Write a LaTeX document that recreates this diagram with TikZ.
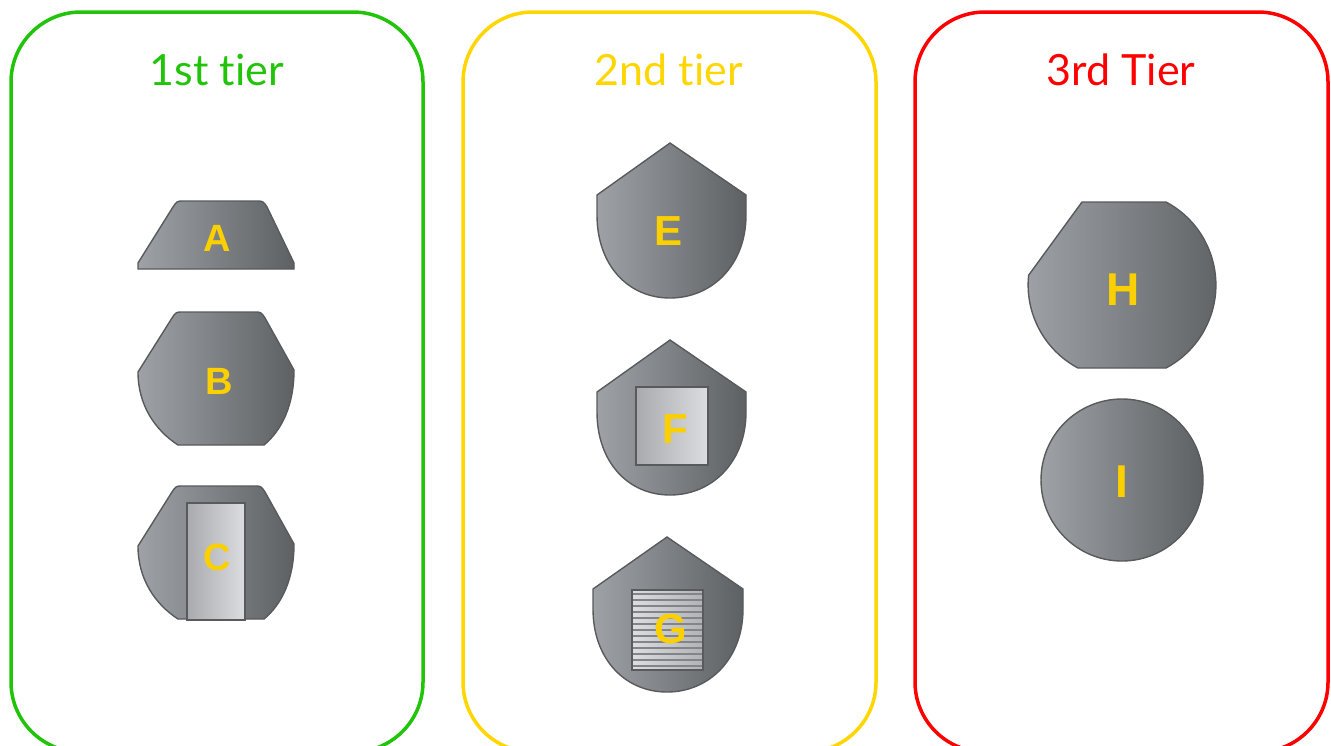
\documentclass[tikz,border=0pt]{standalone}
\usepackage{fontspec}
\setmainfont{Lato}[Ligatures=NoCommon]
\newfontfamily\letterfont{Liberation Sans}
\definecolor{tiergreen}{RGB}{34,196,10}
\definecolor{tieryellow}{RGB}{255,214,0}
\definecolor{tierred}{RGB}{255,0,0}
\definecolor{lettergold}{RGB}{250,208,0}
\definecolor{shapelight}{RGB}{158,161,166}
\definecolor{shapedark}{RGB}{94,97,99}
\definecolor{shapeline}{RGB}{88,90,92}
\definecolor{insetlight}{RGB}{168,170,174}
\definecolor{insetdark}{RGB}{220,221,224}
\definecolor{stripegray}{RGB}{130,132,136}

\begin{document}
\begin{tikzpicture}[x=0.5pt,y=-0.5pt,
  panel/.style={line width=1.75pt,rounded corners=35pt},
  tiertitle/.style={font=\fontsize{21.5}{24}\selectfont,inner sep=0pt,anchor=base},
  tile/.style={draw=shapeline,line width=0.7pt,left color=shapelight,right color=shapedark},
  inset/.style={draw=shapeline,line width=0.7pt,left color=insetlight,right color=insetdark},
  stripe/.style={stripegray,line width=1.2pt},
  letter/.style={font=\letterfont\bfseries\fontsize{#1}{#1}\selectfont,text=lettergold,inner sep=0pt,anchor=base}]
\clip (0,0) rectangle (1331,745);
\fill[white] (0,0) rectangle (1331,745);
% tier panels
\draw[panel,tiergreen] (11,12) rectangle (423,752);
\draw[panel,tieryellow] (463,12) rectangle (876,752);
\draw[panel,tierred] (915,12) rectangle (1328,752);
\node[tiertitle,text=tiergreen] (title1) at (217,85) {1st tier};
\node[tiertitle,text=tieryellow] (title2) at (669,85) {2nd tier};
\node[tiertitle,text=tierred] (title3) at (1121,85) {3rd Tier};

% 1st tier
\draw[tile] (138,269) -- (138,263) -- (173,207) .. controls (177,201) .. (184,201) -- (256,201)
  .. controls (263,201) .. (267,207) -- (294,263) -- (294,269) -- cycle;
\draw[tile] (138,372) -- (172,318) .. controls (176,312) .. (183,312) -- (254,312)
  .. controls (261,312) .. (265,318) -- (294,370) .. controls (294,405) and (282,430) .. (264,445)
  -- (178,445) .. controls (155,430) and (138,405) .. (138,372) -- cycle;
\begin{scope}[shift={(0,174)}]
\draw[tile] (138,372) -- (172,318) .. controls (176,312) .. (183,312) -- (254,312)
  .. controls (261,312) .. (265,318) -- (294,370) .. controls (294,405) and (282,430) .. (264,445)
  -- (178,445) .. controls (155,430) and (138,405) .. (138,372) -- cycle;
\end{scope}
\draw[inset] (187,503) rectangle (245,620);
\node[letter=19] (A) at (217,251) {A};
\node[letter=19] (B) at (219,394) {B};
\node[letter=19] (C) at (217,570) {C};

% 2nd tier
\draw[tile] (597,195) -- (670,143) -- (746,195) -- (746,215) .. controls (746,265) and (712,298) .. (670,298)
  .. controls (628,298) and (597,265) .. (597,215) -- cycle;
\begin{scope}[shift={(0,197)}]
\draw[tile] (597,195) -- (670,143) -- (746,195) -- (746,215) .. controls (746,265) and (712,298) .. (670,298)
  .. controls (628,298) and (597,265) .. (597,215) -- cycle;
\end{scope}
\begin{scope}[shift={(-3,394)}]
\draw[tile] (596,195) -- (670,143) -- (746,195) -- (746,215) .. controls (746,265) and (712,298) .. (670,298)
  .. controls (628,298) and (596,265) .. (596,215) -- cycle;
\end{scope}
\draw[inset] (636,387) rectangle (708,465);
\fill[left color=insetdark,right color=insetlight!90!white] (632,590) rectangle (703,670);
\foreach \sy in {594,600,...,666}
  \draw[stripe] (632,\sy) -- (703,\sy);
\draw[shapeline,line width=0.7pt] (632,590) rectangle (703,670);
\node[letter=21] (E) at (668,245) {E};
\node[letter=21] (F) at (675,443) {F};
\node[letter=21] (G) at (671,643) {G};

% 3rd tier
\draw[tile] (1082,202) -- (1166,202) arc (-62:62:94) -- (1078,368) arc (118:186:94) -- cycle;
\draw[tile] (1122,480) circle (81);
\node[letter=23] (H) at (1123,305) {H};
\node[letter=23] (I) at (1122,497) {I};
\end{tikzpicture}
\end{document}
